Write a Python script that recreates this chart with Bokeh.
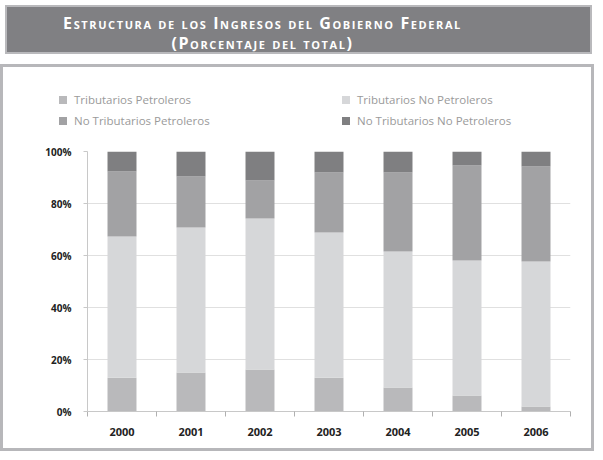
from bokeh.plotting import figure
from bokeh.models import ColumnDataSource, FixedTicker, Div, NumeralTickFormatter
from bokeh.layouts import column
from bokeh.embed import file_html
from bokeh.resources import INLINE

years = [2000, 2001, 2002, 2003, 2004, 2005, 2006]
trib_petroleros = [13.0, 15.0, 16.2, 13.0, 9.2, 6.2, 1.9]
trib_no_petroleros = [54.3, 55.8, 58.0, 55.8, 52.3, 51.9, 55.8]
no_trib_petroleros = [25.0, 19.6, 14.6, 23.1, 30.4, 36.5, 36.5]
no_trib_no_petroleros = [7.7, 9.6, 11.2, 8.1, 8.1, 5.4, 5.8]
series_names = ["Tributarios Petroleros", "Tributarios No Petroleros",
                "No Tributarios Petroleros", "No Tributarios No Petroleros"]
y_ticks = [0, 20, 40, 60, 80, 100]
y_labels = ["0%", "20%", "40%", "60%", "80%", "100%"]
title_line1 = "Estructura de los Ingresos del Gobierno Federal"
title_line2 = "(Porcentaje del total)"

colors = ["#b9b9bb", "#d6d7d9", "#a2a2a4", "#7f7f81"]
keys = ["tp", "tnp", "ntp", "ntnp"]

source = ColumnDataSource(dict(x=years, tp=trib_petroleros, tnp=trib_no_petroleros,
                               ntp=no_trib_petroleros, ntnp=no_trib_no_petroleros))

title = Div(
    text=f"{title_line1}<br>{title_line2}",
    width=511, height=39,
    styles={
        "background-color": "#808083",
        "border": "2px solid #b9b9bc",
        "color": "white",
        "font-family": "Open Sans",
        "font-weight": "bold",
        "font-variant": "small-caps",
        "font-size": "16px",
        "letter-spacing": "1.6px",
        "line-height": "20px",
        "text-align": "center",
        "padding-top": "6px",
        "padding-right": "72px",
        "box-sizing": "content-box",
        "overflow": "hidden",
    },
)

# ---- legend (HTML, 2 columns x 2 rows) ----
def legend_entry(name, color):
    return (f'<div style="display:flex;align-items:center;height:12px;white-space:nowrap;">'
            f'<span style="display:inline-block;width:8px;height:8px;background:{color};'
            f'margin-right:7px;"></span><span>{name}</span></div>')

cells = "".join(legend_entry(n, c) for n, c in zip(series_names, colors))
legend = Div(
    text=(f'<div style="position:relative;left:56px;top:25px;display:grid;'
          f'grid-template-columns:283px 220px;row-gap:9px;">{cells}</div>'),
    width=588, height=77, margin=0,
    styles={
        "font-family": "Open Sans",
        "font-size": "11.5px",
        "color": "#9a9a9a",
        "overflow": "hidden",
    },
)

# ---- main chart ----
p = figure(width=588, height=304, output_backend="svg", toolbar_location=None,
           x_range=(min(years) - 0.5, max(years) + 0.5), y_range=(0, 100),
           min_border_left=84, min_border_right=21, min_border_top=7, min_border_bottom=37)
p.outline_line_color = None
p.background_fill_color = "white"
p.border_fill_color = "white"

p.vbar_stack(keys, x="x", width=0.42, color=colors, source=source, line_color=None)

p.yaxis.ticker = FixedTicker(ticks=y_ticks)
p.yaxis.major_label_overrides = {t: l for t, l in zip(y_ticks, y_labels)}
p.yaxis.axis_line_color = "#c8c8c8"
p.yaxis.major_tick_line_color = "#c8c8c8"
p.yaxis.major_tick_out = 4
p.yaxis.major_tick_in = 0
p.yaxis.minor_tick_line_color = None
p.yaxis.major_label_standoff = 12
p.yaxis.major_label_text_font = "Open Sans"
p.yaxis.major_label_text_font_style = "bold"
p.yaxis.major_label_text_font_size = "10px"
p.yaxis.major_label_text_color = "#222222"

p.xaxis.ticker = FixedTicker(ticks=years, minor_ticks=[y - 0.5 for y in years] + [max(years) + 0.5])
p.xaxis.formatter = NumeralTickFormatter(format="0")
p.xaxis.axis_line_color = "#c8c8c8"
p.xaxis.major_tick_line_color = None
p.xaxis.minor_tick_line_color = "#b0b0b0"
p.xaxis.minor_tick_out = 5
p.xaxis.minor_tick_in = 0
p.xaxis.major_label_standoff = 10
p.xaxis.major_label_text_font = "Open Sans"
p.xaxis.major_label_text_font_style = "bold"
p.xaxis.major_label_text_font_size = "11px"
p.xaxis.major_label_text_color = "#222222"

p.xgrid.grid_line_color = None
p.ygrid.ticker = FixedTicker(ticks=y_ticks)
p.ygrid.grid_line_color = "#e0e0e0"

box = column(legend, p, spacing=0, styles={"border": "3px solid #b7b7ba", "background-color": "white"})
layout = column(title, box, spacing=5)
open("out.html", "w").write(file_html(layout, INLINE))
